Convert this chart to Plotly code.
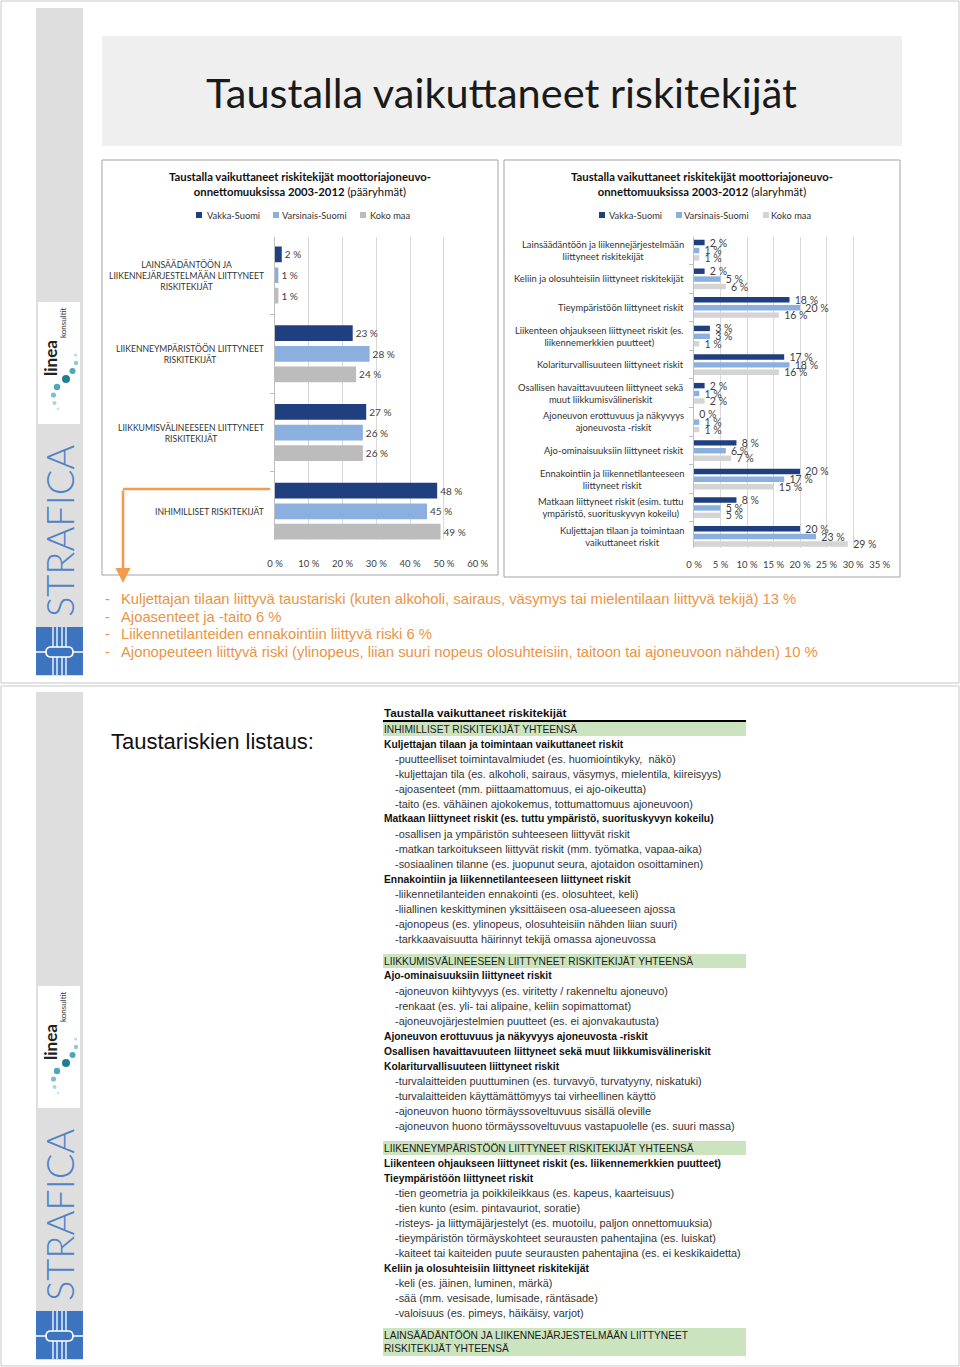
import plotly.graph_objects as go

W, H = 960, 1367


def px(x):
    return x / W


def py(y):
    return 1 - y / H


# ---------------- DATA ----------------
series_names = ["Vakka-Suomi", "Varsinais-Suomi", "Koko maa"]

main_categories = [
    "LAINSÄÄDÄNTÖÖN JA<br>LIIKENNEJÄRJESTELMÄÄN LIITTYNEET<br>RISKITEKIJÄT",
    "LIIKENNEYMPÄRISTÖÖN LIITTYNEET<br>RISKITEKIJÄT",
    "LIIKKUMISVÄLINEESEEN LIITTYNEET<br>RISKITEKIJÄT",
    "INHIMILLISET RISKITEKIJÄT",
]
main_vakka = [2, 23, 27, 48]
main_varsinais = [1, 28, 26, 45]
main_koko = [1, 24, 26, 49]
main_ticks = [0, 10, 20, 30, 40, 50, 60]

sub_categories = [
    "Lainsäädäntöön ja liikennejärjestelmään<br>liittyneet riskitekijät",
    "Keliin ja olosuhteisiin liittyneet riskitekijät",
    "Tieympäristöön liittyneet riskit",
    "Liikenteen ohjaukseen liittyneet riskit (es.<br>liikennemerkkien puutteet)",
    "Kolariturvallisuuteen liittyneet riskit",
    "Osallisen havaittavuuteen liittyneet sekä<br>muut liikkumisvälineriskit",
    "Ajoneuvon erottuvuus ja näkyvyys<br>ajoneuvosta -riskit",
    "Ajo-ominaisuuksiin liittyneet riskit",
    "Ennakointiin ja liikennetilanteeseen<br>liittyneet riskit",
    "Matkaan liittyneet riskit (esim. tuttu<br>ympäristö, suorituskyvyn kokeilu)",
    "Kuljettajan tilaan ja toimintaan<br>vaikuttaneet riskit",
]
sub_vakka = [2, 2, 18, 3, 17, 2, 0, 8, 20, 8, 20]
sub_varsinais = [1, 5, 20, 3, 18, 1, 1, 6, 17, 5, 23]
sub_koko = [1, 6, 16, 1, 16, 2, 1, 7, 15, 5, 29]
sub_ticks = [0, 5, 10, 15, 20, 25, 30, 35]

chart1_title = ("<b>Taustalla vaikuttaneet riskitekijät moottoriajoneuvo-</b><br>"
                "<b>onnettomuuksissa 2003-2012</b> (pääryhmät)")
chart2_title = ("<b>Taustalla vaikuttaneet riskitekijät moottoriajoneuvo-</b><br>"
                "<b>onnettomuuksissa 2003-2012</b> (alaryhmät)")

slide_title = "Taustalla vaikuttaneet riskitekijät"

orange_lines = [
    "Kuljettajan tilaan liittyvä taustariski (kuten alkoholi, sairaus, väsymys tai mielentilaan liittyvä tekijä) 13 %",
    "Ajoasenteet ja -taito 6 %",
    "Liikennetilanteiden ennakointiin liittyvä riski 6 %",
    "Ajonopeuteen liittyvä riski (ylinopeus, liian suuri nopeus olosuhteisiin, taitoon tai ajoneuvoon nähden) 10 %",
]

page2_heading = "Taustariskien listaus:"
table_title = "Taustalla vaikuttaneet riskitekijät"
table_sections = [
    ("INHIMILLISET RISKITEKIJÄT YHTEENSÄ", [
        ("b", "Kuljettajan tilaan ja toimintaan vaikuttaneet riskit"),
        ("i", "-puutteelliset toimintavalmiudet (es. huomiointikyky,  näkö)"),
        ("i", "-kuljettajan tila (es. alkoholi, sairaus, väsymys, mielentila, kiireisyys)"),
        ("i", "-ajoasenteet (mm. piittaamattomuus, ei ajo-oikeutta)"),
        ("i", "-taito (es. vähäinen ajokokemus, tottumattomuus ajoneuvoon)"),
        ("b", "Matkaan liittyneet riskit (es. tuttu ympäristö, suorituskyvyn kokeilu)"),
        ("i", "-osallisen ja ympäristön suhteeseen liittyvät riskit"),
        ("i", "-matkan tarkoitukseen liittyvät riskit (mm. työmatka, vapaa-aika)"),
        ("i", "-sosiaalinen tilanne (es. juopunut seura, ajotaidon osoittaminen)"),
        ("b", "Ennakointiin ja liikennetilanteeseen liittyneet riskit"),
        ("i", "-liikennetilanteiden ennakointi (es. olosuhteet, keli)"),
        ("i", "-liiallinen keskittyminen yksittäiseen osa-alueeseen ajossa"),
        ("i", "-ajonopeus (es. ylinopeus, olosuhteisiin nähden liian suuri)"),
        ("i", "-tarkkaavaisuutta häirinnyt tekijä omassa ajoneuvossa"),
    ]),
    ("LIIKKUMISVÄLINEESEEN LIITTYNEET RISKITEKIJÄT YHTEENSÄ", [
        ("b", "Ajo-ominaisuuksiin liittyneet riskit"),
        ("i", "-ajoneuvon kiihtyvyys (es. viritetty / rakenneltu ajoneuvo)"),
        ("i", "-renkaat (es. yli- tai alipaine, keliin sopimattomat)"),
        ("i", "-ajoneuvojärjestelmien puutteet (es. ei ajonvakautusta)"),
        ("b", "Ajoneuvon erottuvuus ja näkyvyys ajoneuvosta -riskit"),
        ("b", "Osallisen havaittavuuteen liittyneet sekä muut liikkumisvälineriskit"),
        ("b", "Kolariturvallisuuteen liittyneet riskit"),
        ("i", "-turvalaitteiden puuttuminen (es. turvavyö, turvatyyny, niskatuki)"),
        ("i", "-turvalaitteiden käyttämättömyys tai virheellinen käyttö"),
        ("i", "-ajoneuvon huono törmäyssoveltuvuus sisällä oleville"),
        ("i", "-ajoneuvon huono törmäyssoveltuvuus vastapuolelle (es. suuri massa)"),
    ]),
    ("LIIKENNEYMPÄRISTÖÖN LIITTYNEET RISKITEKIJÄT YHTEENSÄ", [
        ("b", "Liikenteen ohjaukseen liittyneet riskit (es. liikennemerkkien puutteet)"),
        ("b", "Tieympäristöön liittyneet riskit"),
        ("i", "-tien geometria ja poikkileikkaus (es. kapeus, kaarteisuus)"),
        ("i", "-tien kunto (esim. pintavauriot, soratie)"),
        ("i", "-risteys- ja liittymäjärjestelyt (es. muotoilu, paljon onnettomuuksia)"),
        ("i", "-tieympäristön törmäyskohteet seurausten pahentajina (es. luiskat)"),
        ("i", "-kaiteet tai kaiteiden puute seurausten pahentajina (es. ei keskikaidetta)"),
        ("b", "Keliin ja olosuhteisiin liittyneet riskitekijät"),
        ("i", "-keli (es. jäinen, luminen, märkä)"),
        ("i", "-sää (mm. vesisade, lumisade, räntäsade)"),
        ("i", "-valoisuus (es. pimeys, häikäisy, varjot)"),
    ]),
    ("LAINSÄÄDÄNTÖÖN JA LIIKENNEJÄRJESTELMÄÄN LIITTYNEET<br>RISKITEKIJÄT YHTEENSÄ", []),
]

# ---------------- STYLE ----------------
C_DARK = "#1f3f7f"
C_LIGHT = "#8bb0e0"
C_GRAY1 = "#bcbcbc"
C_GRAY2 = "#d4d4d4"
ORANGE_TXT = "#ea9446"
ORANGE_LINE = "#f39b4c"
BLUE_LOGO = "#3c74bf"
CHART_FONT = "Lato, Calibri, sans-serif"
ARIAL = "Liberation Sans, Arial, sans-serif"

fig = go.Figure()

# chart 1 bars
main_series = [main_vakka, main_varsinais, main_koko]
main_colors = [C_DARK, C_LIGHT, C_GRAY1]
main_offsets = [-0.364, -0.10, 0.16]
for name, vals, col, off in zip(series_names, main_series, main_colors, main_offsets):
    fig.add_trace(go.Bar(
        y=main_categories, x=vals, orientation="h", name=name,
        marker=dict(color=col, line=dict(width=0)),
        width=0.2, offset=off,
        text=[f"{v} %" for v in vals], textposition="outside",
        textfont=dict(family=CHART_FONT, size=10, color="#404040"),
        constraintext="none", cliponaxis=False,
        xaxis="x", yaxis="y", showlegend=False,
    ))

# chart 2 bars
sub_series = [sub_vakka, sub_varsinais, sub_koko]
sub_colors = [C_DARK, C_LIGHT, C_GRAY2]
sub_offsets = [-0.36, -0.085, 0.175]
for name, vals, col, off in zip(series_names, sub_series, sub_colors, sub_offsets):
    fig.add_trace(go.Bar(
        y=sub_categories, x=vals, orientation="h", name=name,
        marker=dict(color=col, line=dict(width=0)),
        width=0.19, offset=off,
        text=[f"\u2002{v} %" for v in vals], textposition="outside",
        textfont=dict(family=CHART_FONT, size=10.5, color="#404040"),
        constraintext="none", cliponaxis=False,
        xaxis="x2", yaxis="y2", showlegend=False,
    ))

shapes = []
annotations = []


def rect(x0, y0, x1, y1, fill=None, line=None, lw=1, layer="below"):
    shapes.append(dict(type="rect", xref="paper", yref="paper",
                       x0=px(x0), x1=px(x1), y0=py(y1), y1=py(y0),
                       fillcolor=fill if fill else "rgba(0,0,0,0)",
                       line=dict(color=line if line else "rgba(0,0,0,0)", width=lw if line else 0),
                       layer=layer))


def seg(x0, y0, x1, y1, color, lw=1, layer="below"):
    shapes.append(dict(type="line", xref="paper", yref="paper",
                       x0=px(x0), x1=px(x1), y0=py(y0), y1=py(y1),
                       line=dict(color=color, width=lw), layer=layer))


def text(x, y, s, size, color="#222", family=ARIAL, xanchor="left", yanchor="middle",
         align="left", angle=0):
    annotations.append(dict(x=px(x), y=py(y), xref="paper", yref="paper",
                            text=s, showarrow=False, xanchor=xanchor, yanchor=yanchor,
                            align=align, textangle=angle,
                            font=dict(size=size, color=color, family=family)))


# page frames
rect(1, 1, 959, 683, line="#c8c8c8")
rect(1, 686, 959, 1366, line="#c8c8c8")


def sidebar(off):
    rect(36, 8 + off, 83, 676 + off, fill="#dedede")
    # linea logo
    rect(38, 302 + off, 80, 424 + off, fill="#ffffff")
    text(50, 358 + off, "<b>linea</b>", 17, "#222", CHART_FONT, "center", "middle", "center", -90)
    text(63, 323 + off, "konsultit", 8, "#333", CHART_FONT, "center", "middle", "center", -90)
    dots = [(75.5, 355, 1.6, "#b9dde2"), (76, 363, 2.2, "#8fc9d1"), (72.5, 371, 3.0, "#4aa8b8"),
            (66, 379, 4.0, "#1f7f92"), (57, 387, 3.2, "#4aa8b8"), (53.5, 395, 2.6, "#7cc0ca"),
            (54.5, 403, 2.0, "#a8d6dc"), (58, 409, 1.4, "#cbe6ea")]
    for cx, cy, r, c in dots:
        shapes.append(dict(type="circle", xref="paper", yref="paper",
                           x0=px(cx - r), x1=px(cx + r), y0=py(cy + off + r), y1=py(cy + off - r),
                           fillcolor=c, line=dict(width=0), layer="below"))
    # STRAFICA
    text(59, 531 + off, "STRAFICA", 38, "#4f82c6", "Lato Light, Lato, sans-serif",
         "center", "middle", "center", -90)
    # blue logo
    rect(36, 627 + off, 83, 675 + off, fill=BLUE_LOGO)
    for lx in (53, 57, 62, 66):
        seg(lx, 627 + off, lx, 675 + off, "#ffffff", 1.3)
    seg(36, 652 + off, 83, 652 + off, "#ffffff", 1.3)
    shapes.append(dict(type="path", xref="paper", yref="paper", layer="below",
                       path=(f"M {px(51)},{py(647+off)} L {px(68)},{py(647+off)} "
                             f"Q {px(73)},{py(647+off)} {px(73)},{py(652+off)} "
                             f"Q {px(73)},{py(657+off)} {px(68)},{py(657+off)} "
                             f"L {px(51)},{py(657+off)} Q {px(46)},{py(657+off)} {px(46)},{py(652+off)} "
                             f"Q {px(46)},{py(647+off)} {px(51)},{py(647+off)} Z"),
                       fillcolor=BLUE_LOGO, line=dict(color="#ffffff", width=1.6)))


sidebar(0)
sidebar(684)

# title box
rect(102, 36, 902, 146, fill="#efefef")
text(501, 92, slide_title, 41.5, "#1a1a1a", "Lato, Calibri, sans-serif", "center", "middle", "center")

# chart frames
rect(102, 160, 498, 575, fill="#ffffff", line="#a3a3a3")
rect(504, 160, 900, 577, fill="#ffffff", line="#a3a3a3")

# chart titles
text(300, 184, chart1_title, 11.3, "#111", CHART_FONT, "center", "middle", "center")
text(702, 184, chart2_title, 11.3, "#111", CHART_FONT, "center", "middle", "center")

# legends
leg1 = [(196, 205), (273, 280), (360, 368)]
leg2 = [(599, 607), (676, 682), (763, 769)]
for legpos, cols in ((leg1, main_colors), (leg2, sub_colors)):
    for (sx, tx), name, col in zip(legpos, series_names, cols):
        rect(sx, 212, sx + 6, 218, fill=col)
        text(tx, 215, name, 9.3, "#333", CHART_FONT)

# category labels
for cat in main_categories:
    annotations.append(dict(x=px(266), y=cat, xref="paper", yref="y", text=cat, showarrow=False,
                            xanchor="right", yanchor="middle", align="center",
                            font=dict(size=8.6, color="#333", family=CHART_FONT)))
for cat in sub_categories:
    annotations.append(dict(x=px(686), y=cat, xref="paper", yref="y2", text=cat, showarrow=False,
                            xanchor="right", yanchor="middle", align="center",
                            font=dict(size=9.4, color="#333", family=CHART_FONT)))

# orange arrow
seg(270, 489, 123, 489, ORANGE_LINE, 2.5, layer="above")
annotations.append(dict(x=px(123), y=py(583), xref="paper", yref="paper", ax=0, ay=-94,
                        showarrow=True, arrowhead=2, arrowsize=1.2, arrowwidth=2.5,
                        arrowcolor=ORANGE_LINE, text=""))

# orange bullet text
for i, s in enumerate(orange_lines):
    yy = 599 + i * 17.7
    text(103, yy, "-", 14.8, ORANGE_TXT, ARIAL)
    text(119, yy, s, 14.8, ORANGE_TXT, ARIAL)

# page 2
text(109, 741, page2_heading, 22, "#111", ARIAL)

text(382, 712, "<b>" + table_title + "</b>", 11.7, "#111", ARIAL)
seg(383, 721, 746, 721, "#000000", 2)

y = 729
first = True
for header, rows in table_sections:
    nlines = header.count("<br>") + 1
    if not first:
        y = y + 22 + 7 * (nlines - 1)
    first = False
    half = 7 * nlines
    rect(383, y - half, 746, y + half, fill="#cbe4bf")
    text(382, y, header, 10.2, "#1a1a1a", ARIAL)
    for kind, s in rows:
        y += 15
        if kind == "b":
            text(382, y, "<b>" + s + "</b>", 10.3, "#111", ARIAL)
        else:
            text(393, y, s, 10.9, "#333", ARIAL)

fig.update_layout(
    width=W, height=H, margin=dict(l=0, r=0, t=0, b=0, autoexpand=False),
    paper_bgcolor="#ffffff", plot_bgcolor="rgba(0,0,0,0)",
    barmode="overlay", showlegend=False,
    shapes=shapes, annotations=annotations,
    xaxis=dict(domain=[px(275), px(477.7)], range=[0, 60], anchor="y",
               tickvals=main_ticks, ticktext=[f"{t} %" for t in main_ticks],
               showgrid=True, gridcolor="#d9d9d9", gridwidth=1, zeroline=False, showline=False,
               ticks="outside", ticklen=15, tickcolor="rgba(0,0,0,0)",
               tickfont=dict(family=CHART_FONT, size=9.5, color="#404040"), fixedrange=True),
    yaxis=dict(domain=[py(540), py(236.7)], range=[3.365, -0.49], anchor="x",
               type="category", showticklabels=False, showgrid=False, zeroline=False,
               showline=True, linecolor="#bfbfbf", linewidth=1,
               ticks="outside", tickson="boundaries", ticklen=4, tickcolor="#bfbfbf"),
    xaxis2=dict(domain=[px(694), px(879.7)], range=[0, 35], anchor="y2",
                tickvals=sub_ticks, ticktext=[f"{t} %" for t in sub_ticks],
                showgrid=True, gridcolor="#d9d9d9", gridwidth=1, zeroline=False, showline=False,
                ticks="outside", ticklen=8, tickcolor="rgba(0,0,0,0)",
                tickfont=dict(family=CHART_FONT, size=9.5, color="#404040"), fixedrange=True),
    yaxis2=dict(domain=[py(548), py(237.3)], range=[10.41, -0.45], anchor="x2",
                type="category", showticklabels=False, showgrid=False, zeroline=False,
                showline=True, linecolor="#bfbfbf", linewidth=1,
                ticks="outside", tickson="boundaries", ticklen=4, tickcolor="#bfbfbf"),
)

fig.write_html("out.html",
               post_script="document.body.style.margin='0px';document.body.style.overflow='hidden';")
